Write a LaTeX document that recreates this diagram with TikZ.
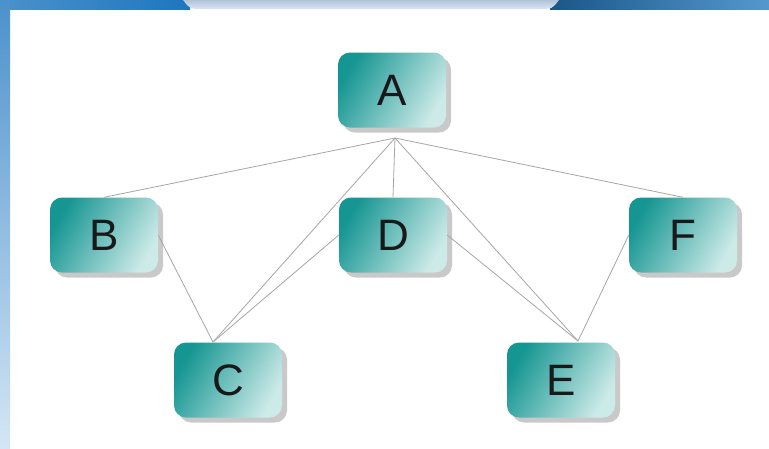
\documentclass[tikz,border=0pt]{standalone}
\usepackage{fontspec}
\setmainfont{Liberation Sans}
\usetikzlibrary{shadows}
\definecolor{tealdark}{RGB}{22,150,146}
\definecolor{teallight}{RGB}{204,234,232}
\definecolor{slideblue}{RGB}{30,118,190}
\definecolor{slidedeep}{RGB}{26,86,134}
\definecolor{slidelight}{RGB}{212,230,245}
\definecolor{tabblue}{RGB}{190,212,238}
\begin{document}
\begin{tikzpicture}[x=1pt,y=-1pt,
    box/.style={rounded corners=12pt, minimum width=108pt, minimum height=75pt,
        inner sep=0pt, left color=tealdark, right color=teallight, shading angle=60,
        drop shadow={shadow xshift=5pt, shadow yshift=-5pt, fill=gray!70, opacity=0.6},
        font=\fontsize{44}{48}\selectfont, text=black!90},
    link/.style={draw=gray!70, line width=0.8pt}]
            \useasboundingbox (0,0) rectangle (769,448);
            \fill[white] (0,0) rectangle (769,448);
            % slide frame
            \shade[left color=slideblue!80!white, right color=slideblue] (0,0) rectangle (190,9);
            \shade[left color=slidedeep, right color=slideblue!75!white] (550,0) rectangle (769,9);
            \shade[top color=slideblue!80!white, bottom color=slidelight] (0,0) rectangle (10,448);
            \shade[top color=tabblue!80!gray, bottom color=tabblue!60!white]
                (183,0) .. controls (190,9) .. (202,9) -- (540,9) .. controls (552,9) .. (559,0) -- cycle;

            \node[box] (A) at (392,90) {A};
            \node[box] (B) at (104,235) {B};
            \node[box] (D) at (393,235) {D};
            \node[box] (F) at (683,235) {F};
            \node[box] (C) at (228,380) {C};
            \node[box] (E) at (561,380) {E};

            \coordinate (Ahub) at (395,138);
            \coordinate (Ctop) at (213,342);
            \coordinate (Etop) at (578,341);

            \draw (Ahub) edge[link] (B.north);
            \draw (Ahub) edge[link] (D.north);
            \draw (Ahub) edge[link] (F.north);
            \draw (Ahub) edge[link] (Ctop);
            \draw (Ahub) edge[link] (Etop);
            \draw (B.east) edge[link] (Ctop);
            \draw (D.west) edge[link] (Ctop);
            \draw (D.east) edge[link] (Etop);
            \draw (F.west) edge[link] (Etop);
        \end{tikzpicture}
\end{document}
